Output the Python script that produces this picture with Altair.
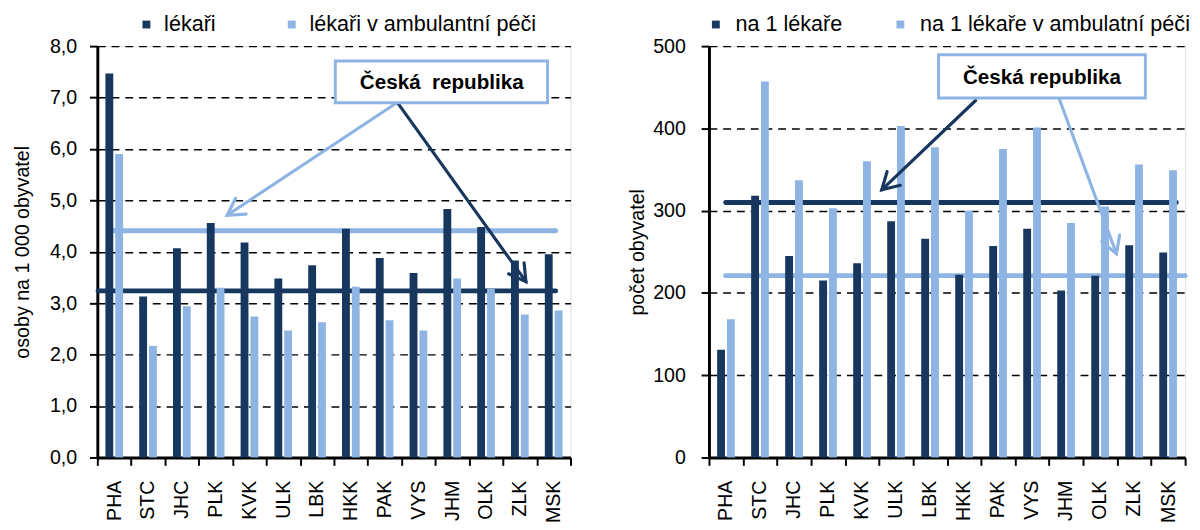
import math
import altair as alt
import pandas as pd

# ---------------- data ----------------
regions = ["PHA", "STC", "JHC", "PLK", "KVK", "ULK", "LBK", "HKK",
           "PAK", "VYS", "JHM", "OLK", "ZLK", "MSK"]

series_left = ["lékaři", "lékaři v ambulantní péči"]
lekari = [7.47, 3.13, 4.07, 4.56, 4.18, 3.48, 3.74, 4.45, 3.88, 3.59, 4.83, 4.48, 3.83, 3.95]
lekari_amb = [5.90, 2.17, 2.94, 3.30, 2.74, 2.47, 2.63, 3.32, 2.67, 2.47, 3.48, 3.28, 2.78, 2.86]
cr_left = [3.24, 4.41]          # Česká republika: lékaři, ambulantní

series_right = ["na 1 lékaře", "na 1 lékaře v ambulatní péči"]
na1 = [131, 318, 245, 215, 236, 287, 266, 222, 257, 278, 203, 221, 258, 249]
na1_amb = [168, 457, 337, 303, 360, 403, 377, 300, 375, 401, 285, 305, 356, 349]
cr_right = [310, 221]

y_ticks_left = [0, 1, 2, 3, 4, 5, 6, 7, 8]
y_ticks_right = [0, 100, 200, 300, 400, 500]

label_cr_left = "Česká\u00a0 republika"
label_cr_right = "Česká republika"

# annotation geometry in data units (x in category units 0..14)
ref_x_left = [[0.02, 13.56], [0.46, 13.56]]
ref_x_right = [[0.49, 13.74], [0.49, 14.0]]
box_left = [7.04, 13.32, 6.90, 7.71]
text_left = [10.19, 7.29]
box_right = [6.75, 12.83, 437.0, 489.6]
text_right = [9.79, 461.7]
arrows_left = [[8.86, 6.90, 3.84, 4.71], [8.88, 6.90, 12.68, 3.42]]
arrows_right = [[7.84, 433.9, 5.08, 325.4], [10.29, 437.0, 11.98, 247.6]]
arrow_colors_left = ["light", "dark"]
arrow_colors_right = ["dark", "light"]

DARK = "#17375E"
LIGHT = "#8DB4E2"
COL = {"dark": DARK, "light": LIGHT}
FONT = "Liberation Sans"
N = len(regions)
H = 419
CHEVRON = "M -0.5 0.866 L 0 0 L 0.5 0.866"


def panel(vals_a, vals_b, series, ymax, yticks, label_expr, ytitle, cr, ref_x,
          box, text_pos, text_label, arrows, arrow_cols, width, leg, yax):
    yscale = alt.Scale(domain=[0, ymax], nice=False)
    xlin = alt.Scale(domain=[0, N], nice=False, zero=False)
    xband = alt.Scale(domain=regions, paddingInner=0, paddingOuter=0)
    color_scale = alt.Scale(domain=series, range=[DARK, LIGHT])
    x_axis = alt.Axis(title=None, labelAngle=270, labelFontSize=20, labelFont=FONT,
                      labelColor="black", tickBand="extent", tickSize=8, tickWidth=2,
                      tickColor="black", domainColor="black", domainWidth=3,
                      labelPadding=15, grid=False)
    y_axis = alt.Axis(title=ytitle, values=yticks, labelExpr=label_expr,
                      labelFontSize=20, labelFont=FONT, labelColor="black",
                      titleFont=FONT, titleFontSize=20, titleFontWeight="normal",
                      titleColor="black", titlePadding=yax["titlePadding"],
                      tickSize=8, tickWidth=2, tickColor="black",
                      domainColor="black", domainWidth=3,
                      labelPadding=yax["labelPadding"],
                      grid=True, gridColor="black", gridDash=[8, 6], gridWidth=1.5)
    legend = alt.Legend(title=None, orient="none", direction="horizontal",
                        legendX=leg["x"], legendY=leg["y"],
                        symbolType="square", symbolSize=64, symbolStrokeWidth=0,
                        labelFont=FONT, labelFontSize=22, labelLimit=0,
                        labelColor="black", labelOffset=leg["offset"],
                        columnPadding=leg["colpad"], padding=0)

    bar_layers = []
    for i, (s, vals, shift) in enumerate([(series[0], vals_a, -5), (series[1], vals_b, 5)]):
        df = pd.DataFrame({"kraj": regions, "serie": [s] * N, "hodnota": vals})
        xenc = (alt.X("kraj:N", sort=regions, scale=xband, axis=x_axis) if i == 0
                else alt.X("kraj:N", sort=regions, scale=xband, axis=None))
        bar_layers.append(
            alt.Chart(df).mark_bar(width=8, xOffset=shift).encode(
                x=xenc,
                y=alt.Y("hodnota:Q", scale=yscale, axis=y_axis, title=ytitle),
                color=alt.Color("serie:N", scale=color_scale, legend=legend),
            ))

    refs = pd.DataFrame({
        "x1": [r[0] for r in ref_x], "x2": [r[1] for r in ref_x],
        "hodnota": cr, "c": [DARK, LIGHT],
    })
    ref_lines = alt.Chart(refs).mark_rule(strokeWidth=5, strokeCap="round").encode(
        x=alt.X("x1:Q", scale=xlin, axis=None), x2="x2:Q",
        y=alt.Y("hodnota:Q", scale=yscale, title=ytitle),
        color=alt.Color("c:N", scale=None),
    )

    ar = pd.DataFrame({
        "x1": [a[0] for a in arrows], "hodnota": [a[1] for a in arrows],
        "x2": [a[2] for a in arrows], "y2": [a[3] for a in arrows],
        "c": [COL[c] for c in arrow_cols],
    })
    angs = []
    for a in arrows:
        dx = (a[2] - a[0]) * width / N
        dy = -(a[3] - a[1]) * H / ymax
        angs.append(math.degrees(math.atan2(dx, -dy)) % 360)
    ar["ang"] = angs

    shafts = alt.Chart(ar).mark_rule(strokeWidth=3.2, strokeCap="round").encode(
        x=alt.X("x1:Q", scale=xlin, axis=None), x2="x2:Q",
        y=alt.Y("hodnota:Q", scale=yscale, title=ytitle), y2="y2:Q",
        color=alt.Color("c:N", scale=None),
    )
    heads = alt.Chart(ar).mark_point(shape=CHEVRON, filled=False, size=1500,
                                     strokeWidth=3.2, opacity=1,
                                     strokeCap="round", strokeJoin="miter").encode(
        x=alt.X("x2:Q", scale=xlin, axis=None),
        y=alt.Y("y2:Q", scale=yscale, title=ytitle),
        angle=alt.Angle("ang:Q", scale=None),
        color=alt.Color("c:N", scale=None),
    )

    bx = pd.DataFrame({"x1": [box[0]], "x2": [box[1]], "hodnota": [box[2]], "y2": [box[3]],
                       "tx": [text_pos[0]], "ty": [text_pos[1]], "t": [text_label]})
    rect = alt.Chart(bx).mark_rect(fill="white", stroke=LIGHT, strokeWidth=3).encode(
        x=alt.X("x1:Q", scale=xlin, axis=None), x2="x2:Q",
        y=alt.Y("hodnota:Q", scale=yscale, title=ytitle), y2="y2:Q",
    )
    txt = alt.Chart(bx).mark_text(font=FONT, fontSize=21, fontWeight="bold",
                                  color="black", baseline="middle").encode(
        x=alt.X("tx:Q", scale=xlin, axis=None),
        y=alt.Y("ty:Q", scale=yscale, title=ytitle),
        text="t:N",
    )

    return alt.layer(ref_lines, *bar_layers, shafts, heads, rect, txt).resolve_scale(
        x="independent").properties(width=width, height=H)


left = panel(lekari, lekari_amb, series_left, 8, y_ticks_left,
             "replace(format(datum.value, '.1f'), '.', ',')",
             "osoby na 1 000 obyvatel", cr_left, ref_x_left, box_left, text_left,
             label_cr_left, arrows_left, arrow_colors_left, 482,
             {"x": 39, "y": -33, "offset": 7, "colpad": 66},
             {"titlePadding": 17, "labelPadding": 13})
right = panel(na1, na1_amb, series_right, 500, y_ticks_right,
              "format(datum.value, 'd')",
              "počet obyvatel", cr_right, ref_x_right, box_right, text_right,
              label_cr_right, arrows_right, arrow_colors_right, 485,
              {"x": -4, "y": -33, "offset": 9, "colpad": 48},
              {"titlePadding": 5, "labelPadding": 16})

chart = alt.hconcat(left, right, spacing=56).resolve_scale(
    x="independent", y="independent", color="independent"
).resolve_legend(color="independent").properties(
    padding={"left": 4, "top": 0, "right": 0, "bottom": 0}
).configure_view(stroke="#1F3B63", strokeWidth=1).configure(font=FONT)

chart.save("out.html", embed_options={"renderer": "svg", "actions": False})
